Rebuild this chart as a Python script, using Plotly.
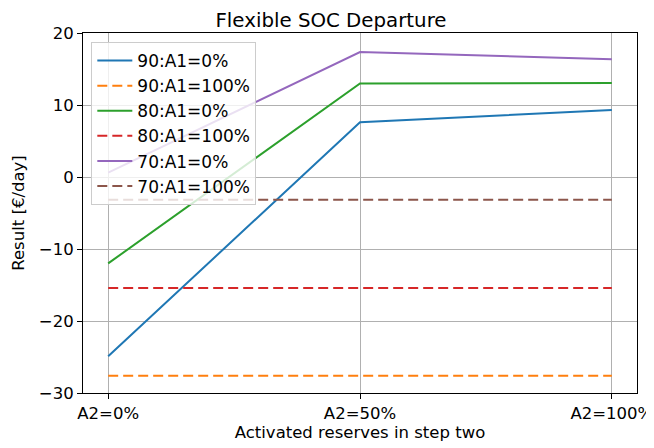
import plotly.graph_objects as go

categories = ["A2=0%", "A2=50%", "A2=100%"]
names = ["90:A1=0%", "90:A1=100%", "80:A1=0%", "80:A1=100%", "70:A1=0%", "70:A1=100%"]
s90_a0 = [-24.9, 7.6, 9.3]
s90_a100 = [-27.6, -27.6, -27.6]
s80_a0 = [-12.0, 13.0, 13.05]
s80_a100 = [-15.4, -15.4, -15.4]
s70_a0 = [0.6, 17.35, 16.35]
s70_a100 = [-3.15, -3.15, -3.15]
yticks = [-30, -20, -10, 0, 10, 20]

series = [s90_a0, s90_a100, s80_a0, s80_a100, s70_a0, s70_a100]
colors = ["#1f77b4", "#ff7f0e", "#2ca02c", "#d62728", "#9467bd", "#8c564b"]
dashes = ["solid", "10px,5px", "solid", "10px,5px", "solid", "10px,5px"]

FONT = "DejaVu Sans"
FS = 16.5
W, H = 646, 440  # page body has an 8px offset
fig = go.Figure()
xs = list(range(len(categories)))
for i, (nm, vals) in enumerate(zip(names, series)):
    fig.add_trace(go.Scatter(
        x=xs, y=vals, mode="lines", name=nm,
        line=dict(color=colors[i], width=2, dash=dashes[i]),
    ))

fig.update_layout(
    width=W, height=H,
    margin=dict(l=75, r=17, t=25, b=55),
    paper_bgcolor="white", plot_bgcolor="white",
    font=dict(family=FONT, size=FS, color="black"),
    title=dict(text="Flexible SOC Departure", x=0.5, xanchor="center",
               y=1 - 19 / H, yanchor="bottom", yref="container",
               font=dict(size=19.8, family=FONT, color="black"), automargin=False),
    showlegend=True,
    legend=dict(x=0.015, y=0.975, xanchor="left", yanchor="top",
                bgcolor="rgba(255,255,255,0.8)", bordercolor="#cccccc", borderwidth=1,
                font=dict(size=FS + 0.5, family=FONT), tracegroupgap=0,
                itemwidth=35),
)
fig.update_xaxes(
    range=[-0.1, 2.1], tickvals=xs, ticktext=categories,
    showgrid=True, gridcolor="#b0b0b0", gridwidth=1,
    showline=True, linecolor="black", linewidth=1, mirror=True,
    ticks="outside", ticklen=5, tickcolor="black",
    zeroline=False, automargin=False,
    title=dict(text="Activated reserves in step two", font=dict(size=FS, family=FONT), standoff=4),
    tickfont=dict(size=FS, family=FONT),
)
fig.update_yaxes(
    range=[-30, 20], tickvals=yticks,
    showgrid=True, gridcolor="#b0b0b0", gridwidth=1,
    showline=True, linecolor="black", linewidth=1, mirror=True,
    ticks="outside", ticklen=5, tickcolor="black",
    zeroline=False, automargin=False,
    title=dict(text="Result [€/day]", font=dict(size=FS, family=FONT), standoff=10),
    tickfont=dict(size=FS, family=FONT),
)
fig.write_html("out.html")
